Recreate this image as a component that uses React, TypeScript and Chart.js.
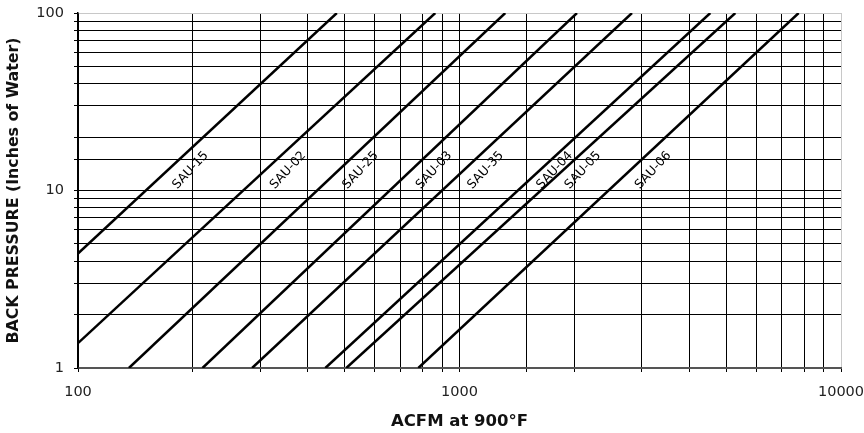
import React, { useEffect, useRef } from "react";
import { Chart, registerables } from "chart.js";

Chart.register(...registerables);

// Series names and the flow (ACFM) read where each line crosses 1 and 100 in. of water
const SERIES = ["SAU-15", "SAU-02", "SAU-25", "SAU-03", "SAU-35", "SAU-04", "SAU-05", "SAU-06"];
const ACFM_AT_LOW = [47.5, 85, 136, 212, 286, 445, 505, 780];
const ACFM_AT_HIGH = [477, 864, 1318, 2032, 2832, 4544, 5285, 7745];
const PRESSURE_LOW = 1;
const PRESSURE_HIGH = 100;

// Tick labels
const X_TICK_LABELS = [100, 1000, 10000];
const Y_TICK_LABELS = [1, 10, 100];

// Back pressure at which the line labels sit
const LABEL_PRESSURE = 13;

const X_TITLE = "ACFM at 900°F";
const Y_TITLE = "BACK PRESSURE (Inches of Water)";

// label horizontal gap from its line (style, px)
const LABEL_GAP = [23, 23, 22, 23, 22, 15, 20, 23];

const isLabel = (v: number, list: number[]) =>
  list.some((t) => Math.abs(t - v) / t < 1e-6);

const labelPlugin = {
  id: "lineLabels",
  afterDatasetsDraw(chart: any) {
    const { ctx, scales } = chart;
    const xs = scales.x;
    const ys = scales.y;
    ctx.save();
    ctx.font = "12.5px 'DejaVu Sans'";
    ctx.fillStyle = "#000";
    ctx.textAlign = "center";
    ctx.textBaseline = "middle";
    SERIES.forEach((name, i) => {
      const lx0 = Math.log10(ACFM_AT_LOW[i]);
      const lx1 = Math.log10(ACFM_AT_HIGH[i]);
      const ly0 = Math.log10(PRESSURE_LOW);
      const ly1 = Math.log10(PRESSURE_HIGH);
      const t = (Math.log10(LABEL_PRESSURE) - ly0) / (ly1 - ly0);
      const xv = Math.pow(10, lx0 + t * (lx1 - lx0));
      const px = xs.getPixelForValue(xv) + LABEL_GAP[i];
      const py = ys.getPixelForValue(LABEL_PRESSURE);
      ctx.save();
      ctx.translate(px, py);
      ctx.rotate((-47 * Math.PI) / 180);
      ctx.fillText(name, 0, 0);
      ctx.restore();
    });
    ctx.restore();
  },
};

export default function App() {
  const ref = useRef<HTMLCanvasElement | null>(null);

  useEffect(() => {
    if (!ref.current) return;
    const datasets = SERIES.map((name, i) => ({
      label: name,
      data: [
        { x: ACFM_AT_LOW[i], y: PRESSURE_LOW },
        { x: ACFM_AT_HIGH[i], y: PRESSURE_HIGH },
      ],
      borderColor: "#000",
      borderWidth: 2.5,
      pointRadius: 0,
      fill: false,
      clip: 0,
    }));

    const chart = new Chart(ref.current, {
      type: "line",
      data: { datasets },
      plugins: [labelPlugin],
      options: {
        animation: false,
        responsive: false,
        maintainAspectRatio: false,
        layout: { padding: { top: 13, right: 23, bottom: 0, left: 0 } },
        plugins: {
          legend: { display: false },
          tooltip: { enabled: false },
        },
        scales: {
          x: {
            type: "logarithmic",
            min: 100,
            max: 10000,
            afterFit: (s: any) => {
              s.height = 65;
              s.paddingLeft = 0;
              s.paddingRight = 0;
            },
            grid: {
              color: (c: any) =>
                c.tick && Math.abs(c.tick.value - 10000) < 1e-6 ? "#c8c8c8" : "#000",
              lineWidth: 1,
              tickLength: 4,
              tickColor: "#000",
            },
            border: { color: "#555", width: 2 },
            ticks: {
              autoSkip: false,
              maxRotation: 0,
              padding: 12,
              color: "#222",
              font: { family: "'DejaVu Sans'", size: 14.5 },
              callback: (v: any) => (isLabel(Number(v), X_TICK_LABELS) ? String(v) : ""),
            },
            title: {
              display: true,
              text: X_TITLE,
              color: "#111",
              font: { family: "'DejaVu Sans'", size: 16.5, weight: "bold" },
              padding: { top: 0, bottom: 1.5 },
            },
          },
          y: {
            type: "logarithmic",
            min: 1,
            max: 100,
            afterFit: (s: any) => {
              s.width = 78;
              s.paddingTop = 0;
              s.paddingBottom = 0;
            },
            grid: {
              color: (c: any) =>
                c.tick && Math.abs(c.tick.value - 100) < 1e-6 ? "#c8c8c8" : "#000",
              lineWidth: 1,
              tickLength: 4,
              tickColor: "#000",
            },
            border: { color: "#000", width: 1.5 },
            ticks: {
              autoSkip: false,
              padding: 10,
              color: "#222",
              font: { family: "'DejaVu Sans'", size: 14.5 },
              callback: (v: any) => (isLabel(Number(v), Y_TICK_LABELS) ? String(v) : ""),
            },
            title: {
              display: true,
              text: Y_TITLE,
              color: "#111",
              font: { family: "'DejaVu Sans'", size: 15.8, weight: "bold" },
              padding: { top: 4, bottom: 0 },
            },
          },
        },
      },
    } as any);

    return () => chart.destroy();
  }, []);

  return (
    <div style={{ position: "absolute", left: 0, top: 0, width: 864, height: 433, background: "#fff" }}>
      <canvas ref={ref} width={864} height={433} style={{ width: 864, height: 433, display: "block" }} />
    </div>
  );
}
